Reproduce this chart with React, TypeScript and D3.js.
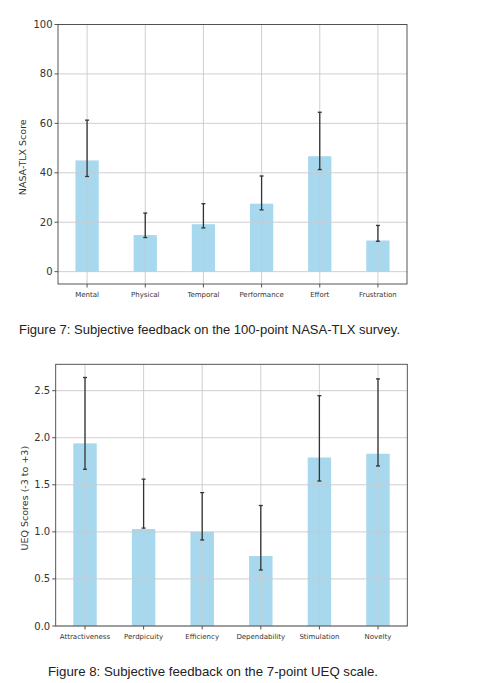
import { useEffect, useRef } from 'react';
import * as d3 from 'd3';

// NASA-TLX (Figure 7)
const tlxCategories = ['Mental', 'Physical', 'Temporal', 'Performance', 'Effort', 'Frustration'];
const tlxMeans = [45, 14.8, 19.2, 27.5, 46.7, 12.6];
const tlxLower = [38.5, 13.8, 17.7, 25, 41.3, 12.3];
const tlxUpper = [61.3, 23.7, 27.5, 38.7, 64.5, 18.7];
const tlxTicks = [0, 20, 40, 60, 80, 100];

// UEQ (Figure 8)
const ueqCategories = ['Attractiveness', 'Perdpicuity', 'Efficiency', 'Dependability', 'Stimulation', 'Novelty'];
const ueqMeans = [1.94, 1.03, 1.0, 0.744, 1.79, 1.83];
const ueqLower = [1.665, 1.04, 0.914, 0.595, 1.54, 1.7];
const ueqUpper = [2.64, 1.56, 1.417, 1.28, 2.447, 2.625];
const ueqTicks = [0, 0.5, 1.0, 1.5, 2.0, 2.5];

interface Panel {
  categories: string[];
  means: number[];
  lower: number[];
  upper: number[];
  ticks: number[];
  tickFormat: (v: number) => string;
  yDomain: [number, number];
  box: { left: number; right: number; top: number; bottom: number };
  yLabel: string;
  yLabelX: number;
  caption: string;
  captionX: number;
  captionY: number;
  captionWidth: number;
}

const W = 490;
const H = 683;

function drawPanel(svg: d3.Selection<SVGSVGElement, unknown, null, undefined>, p: Panel) {
  const { left, right, top, bottom } = p.box;
  const g = svg.append('g');

  const x = d3.scaleLinear().domain([-0.5, p.categories.length - 0.5]).range([left, right]);
  const y = d3.scaleLinear().domain(p.yDomain).range([bottom, top]);
  const barW = (x(1) - x(0)) * 0.4;

  // bars
  g.selectAll('.bar')
    .data(p.means)
    .join('rect')
    .attr('x', (_, i) => x(i) - barW / 2)
    .attr('y', d => y(d))
    .attr('width', barW)
    .attr('height', d => y(Math.max(0, p.yDomain[0])) - y(d) + (p.yDomain[0] < 0 ? 0 : 0))
    .attr('fill', '#a8d8ee');

  // grid on top of bars
  g.selectAll('.hgrid')
    .data(p.ticks)
    .join('line')
    .attr('x1', left)
    .attr('x2', right)
    .attr('y1', d => y(d))
    .attr('y2', d => y(d))
    .attr('stroke', '#c9c9c9')
    .attr('stroke-width', 0.9);

  g.selectAll('.vgrid')
    .data(p.categories)
    .join('line')
    .attr('x1', (_, i) => x(i))
    .attr('x2', (_, i) => x(i))
    .attr('y1', top)
    .attr('y2', bottom)
    .attr('stroke', '#c9c9c9')
    .attr('stroke-width', 0.9);

  // error bars
  const cap = 2;
  p.categories.forEach((_, i) => {
    const cx = x(i);
    g.append('line')
      .attr('x1', cx).attr('x2', cx)
      .attr('y1', y(p.lower[i])).attr('y2', y(p.upper[i]))
      .attr('stroke', '#333').attr('stroke-width', 1.3);
    [p.lower[i], p.upper[i]].forEach(v => {
      g.append('line')
        .attr('x1', cx - cap).attr('x2', cx + cap)
        .attr('y1', y(v)).attr('y2', y(v))
        .attr('stroke', '#333').attr('stroke-width', 1.3);
    });
  });

  // frame
  g.append('rect')
    .attr('x', left).attr('y', top)
    .attr('width', right - left).attr('height', bottom - top)
    .attr('fill', 'none')
    .attr('stroke', '#444')
    .attr('stroke-width', 0.9);

  // y ticks
  p.ticks.forEach(t => {
    g.append('line')
      .attr('x1', left - 3.5).attr('x2', left)
      .attr('y1', y(t)).attr('y2', y(t))
      .attr('stroke', '#444').attr('stroke-width', 0.9);
    g.append('text')
      .attr('x', left - 5.5)
      .attr('y', y(t))
      .attr('dy', '0.35em')
      .attr('text-anchor', 'end')
      .attr('font-family', 'DejaVu Sans')
      .attr('font-size', '10px')
      .attr('fill', '#333')
      .text(p.tickFormat(t));
  });

  // x ticks
  p.categories.forEach((c, i) => {
    g.append('line')
      .attr('x1', x(i)).attr('x2', x(i))
      .attr('y1', bottom).attr('y2', bottom + 3.5)
      .attr('stroke', '#444').attr('stroke-width', 0.9);
    g.append('text')
      .attr('x', x(i))
      .attr('y', bottom + 11)
      .attr('dy', '0.35em')
      .attr('text-anchor', 'middle')
      .attr('font-family', 'DejaVu Sans')
      .attr('font-size', '7px')
      .attr('fill', '#333')
      .text(c);
  });

  // y label
  g.append('text')
    .attr('transform', `translate(${p.yLabelX},${(top + bottom) / 2 + 3}) rotate(-90)`)
    .attr('dy', '0.35em')
    .attr('text-anchor', 'middle')
    .attr('font-family', 'DejaVu Sans')
    .attr('font-size', '9.5px')
    .attr('fill', '#333')
    .text(p.yLabel);

  // caption
  g.append('text')
    .attr('x', p.captionX)
    .attr('y', p.captionY)
    .attr('textLength', p.captionWidth)
    .attr('lengthAdjust', 'spacingAndGlyphs')
    .attr('font-family', 'Liberation Sans, Arial, sans-serif')
    .attr('font-size', '13.5px')
    .attr('fill', '#222')
    .text(p.caption);
}

export default function App() {
  const svgRef = useRef<SVGSVGElement>(null);

  useEffect(() => {
    if (!svgRef.current) return;
    const svg = d3.select(svgRef.current);
    svg.selectAll('*').remove();

    svg.append('rect').attr('width', W).attr('height', H).attr('fill', '#fff');

    drawPanel(svg, {
      categories: tlxCategories,
      means: tlxMeans,
      lower: tlxLower,
      upper: tlxUpper,
      ticks: tlxTicks,
      tickFormat: d3.format('d'),
      yDomain: [-5, 100],
      box: { left: 58, right: 407, top: 24.5, bottom: 284 },
      yLabel: 'NASA-TLX Score',
      yLabelX: 23,
      caption: 'Figure 7: Subjective feedback on the 100-point NASA-TLX survey.',
      captionX: 19,
      captionY: 334,
      captionWidth: 381,
    });

    drawPanel(svg, {
      categories: ueqCategories,
      means: ueqMeans,
      lower: ueqLower,
      upper: ueqUpper,
      ticks: ueqTicks,
      tickFormat: d3.format('.1f'),
      yDomain: [0, 2.78],
      box: { left: 55.7, right: 407.3, top: 364.3, bottom: 626 },
      yLabel: 'UEQ Scores (-3 to +3)',
      yLabelX: 25,
      caption: 'Figure 8: Subjective feedback on the 7-point UEQ scale.',
      captionX: 48,
      captionY: 676,
      captionWidth: 330,
    });
  }, []);

  return (
    <svg
      ref={svgRef}
      width={W}
      height={H}
      style={{ position: 'absolute', left: 0, top: 0, display: 'block' }}
    />
  );
}
